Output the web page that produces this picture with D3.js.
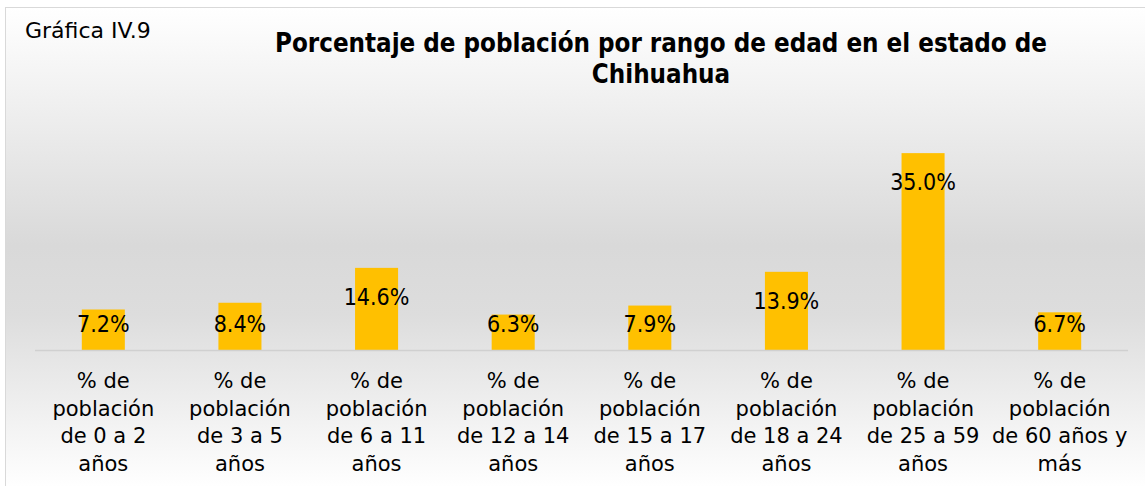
<!DOCTYPE html>
<html>
<head>
<meta charset="UTF-8">
<script src="https://cdn.jsdelivr.net/npm/d3@7/dist/d3.min.js"></script>
<style>
body{
  margin:0;
  background-color:#fff;
}
</style>
</head>
<body>
<script>
// data
var categories = [
  ["% de", "población", "de 0 a 2", "años"],
  ["% de", "población", "de 3 a 5", "años"],
  ["% de", "población", "de 6 a 11", "años"],
  ["% de", "población", "de 12 a 14", "años"],
  ["% de", "población", "de 15 a 17", "años"],
  ["% de", "población", "de 18 a 24", "años"],
  ["% de", "población", "de 25 a 59", "años"],
  ["% de", "población", "de 60 años y", "más"]
]
var values = [7.2, 8.4, 14.6, 6.3, 7.9, 13.9, 35.0, 6.7]
var titleLines = ["Porcentaje de población por rango de edad en el estado de", "Chihuahua"]
var chartLabel = "Gráfica IV.9"

var width = 1145
var height = 486

var svg = d3.select("body")
    .append("svg")
    .attr("width", width)
    .attr("height", height)

// excel style gradient behind the chart
var grad = svg.append("defs").append("linearGradient")
    .attr("id", "bg")
    .attr("x1", 0).attr("y1", 0).attr("x2", 0).attr("y2", 1)
grad.append("stop").attr("offset", "0").attr("stop-color", "#ffffff")
grad.append("stop").attr("offset", "0.48").attr("stop-color", "#d9d9d9")
grad.append("stop").attr("offset", "0.62").attr("stop-color", "#dddddd")
grad.append("stop").attr("offset", "0.97").attr("stop-color", "#ffffff")

svg.append("rect")
    .attr("x", 5.5)
    .attr("y", 7.5)
    .attr("width", width + 10)
    .attr("height", height + 10)
    .attr("fill", "url(#bg)")
    .attr("stroke", "#d9d9d9")
    .attr("stroke-width", 1)

var x = d3.scaleBand()
    .domain(d3.range(values.length))
    .range([35, 1128])
    .paddingInner(0.685)
    .paddingOuter(0.3425)

var y = d3.scaleLinear()
    .domain([0, 40])
    .range([350, 125])

svg.append("text")
    .attr("x", 25)
    .attr("y", 38)
    .attr("font-family", "DejaVu Sans")
    .attr("font-size", 22)
    .attr("fill", "#000")
    .text(chartLabel)

svg.selectAll(".title")
    .data(titleLines)
    .enter().append("text")
    .attr("class", "title")
    .attr("x", 661)
    .attr("y", (d, i) => 52 + i * 31)
    .attr("text-anchor", "middle")
    .attr("font-family", "DejaVu Sans Condensed")
    .attr("font-weight", "bold")
    .attr("font-size", 25.7)
    .attr("fill", "#000")
    .text(d => d)

svg.selectAll(".bar")
    .data(values)
    .enter().append("rect")
    .attr("class", "bar")
    .attr("x", (d, i) => x(i))
    .attr("y", d => y(d))
    .attr("width", x.bandwidth())
    .attr("height", d => y(0) - y(d))
    .attr("fill", "#ffc000")

// axis line
svg.append("line")
    .attr("x1", x.range()[0])
    .attr("x2", x.range()[1])
    .attr("y1", y(0) + 0.5)
    .attr("y2", y(0) + 0.5)
    .attr("stroke", "#d0d0d0")
    .attr("stroke-width", 1.5)

// value labels, inside end, pushed down to a floor for short bars
svg.selectAll(".val")
    .data(values)
    .enter().append("text")
    .attr("class", "val")
    .attr("x", (d, i) => x(i) + x.bandwidth() / 2)
    .attr("y", d => Math.min(y(d) + 37, y(0) - 18))
    .attr("text-anchor", "middle")
    .attr("font-family", "DejaVu Sans Condensed")
    .attr("font-size", 23)
    .attr("fill", "#000")
    .text(d => d.toFixed(1) + "%")

var cat = svg.selectAll(".cat")
    .data(categories)
    .enter().append("text")
    .attr("class", "cat")
    .attr("text-anchor", "middle")
    .attr("font-family", "DejaVu Sans")
    .attr("font-size", 21)
    .attr("fill", "#000")

cat.each(function(lines, i){
  d3.select(this).selectAll("tspan")
    .data(lines)
    .enter().append("tspan")
    .attr("x", x(i) + x.bandwidth() / 2)
    .attr("y", (d, j) => 388 + j * 27.5)
    .text(d => d)
})
</script>
</body>
</html>
